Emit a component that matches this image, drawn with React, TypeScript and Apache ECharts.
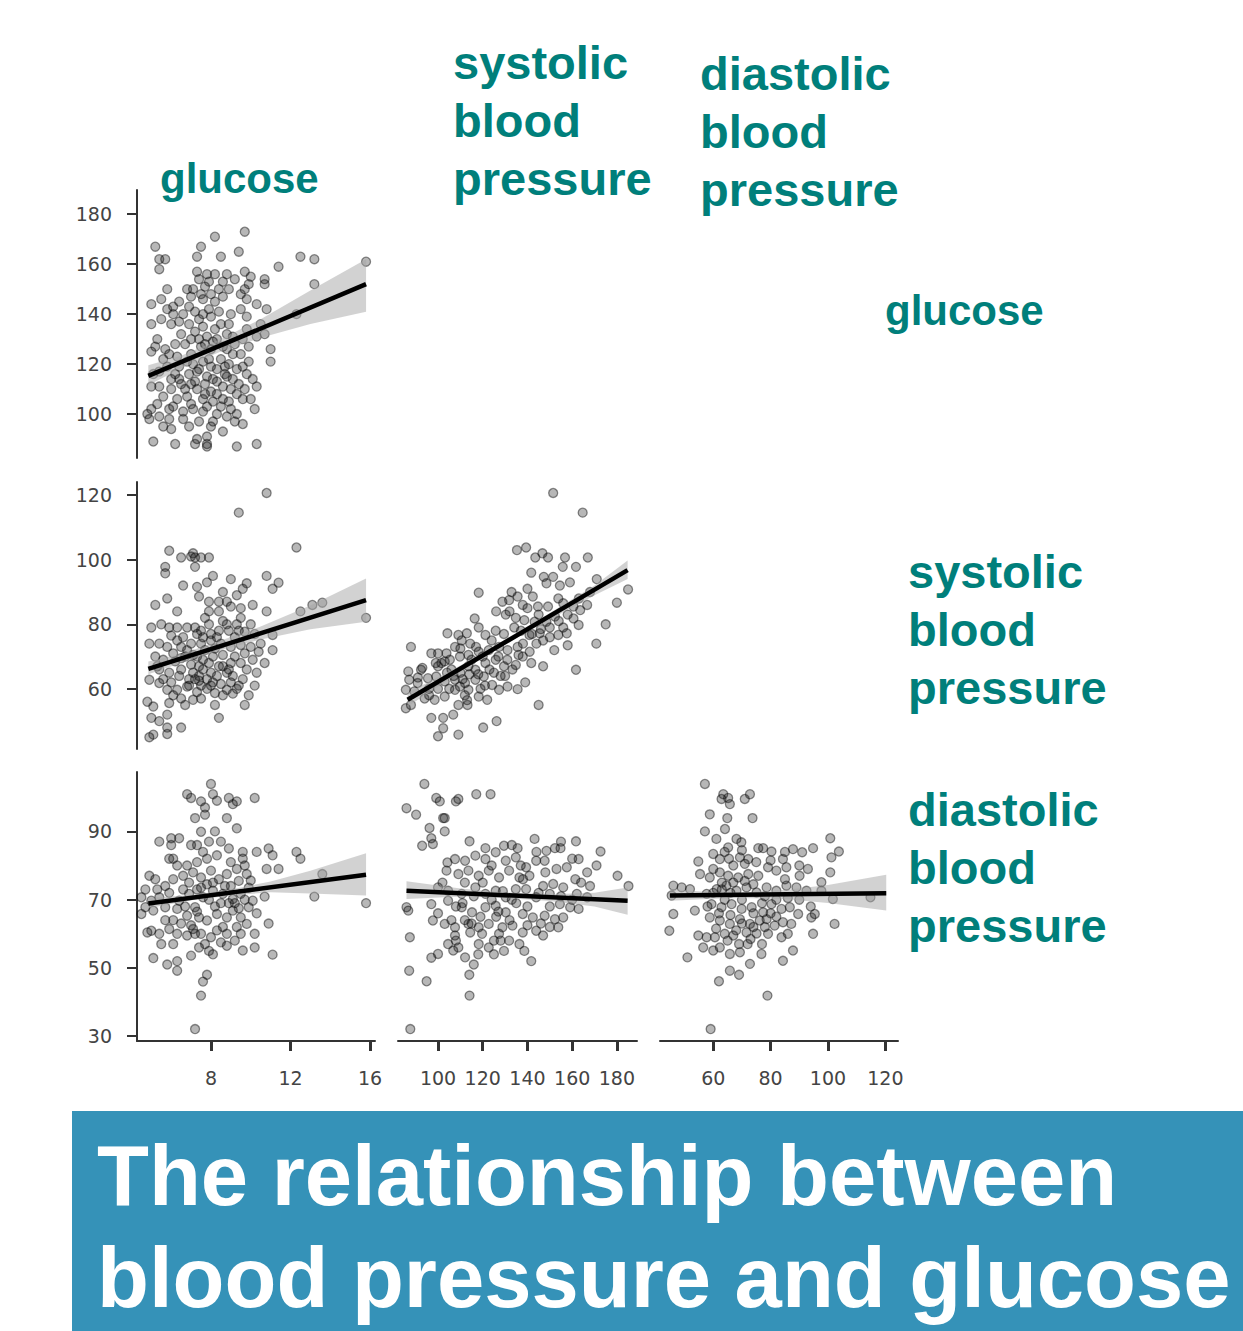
import React, { useEffect, useRef } from "react";
import * as echarts from "echarts";

// ---------- data ----------
const glucoseTicks = [8, 12, 16];
const systolicTicks = [100, 120, 140, 160, 180];
const diastolicTicks = [60, 80, 100, 120];
const row1Ticks = [100, 120, 140, 160, 180];
const row2Ticks = [60, 80, 100, 120];
const row3Ticks = [30, 50, 70, 90];

const colTitles = ["glucose", "systolic\nblood\npressure", "diastolic\nblood\npressure"];
const rowTitles = ["glucose", "systolic\nblood\npressure", "diastolic\nblood\npressure"];
const bannerText = "The relationship between\nblood pressure and glucose";

// row 1, column 1
const pointsR1C1 = [
  [8.2,171],[9.7,173],[5.2,167],[5.4,162],[5.7,162],[5.4,158],[7.3,163],[7.5,167],[8.5,163],[9.4,165],[11.4,159],[12.5,163],[13.2,162],[13.2,152],[15.8,161],[10.7,154],[10.7,152],[10,155],[9.7,157],[8.8,156],[8.2,156],[7.8,156],[7.3,157],[7.4,154],[8.9,150],[9.5,148],[9.7,150],[9.8,146],[9.5,142],[10.3,144],[10.8,142],[10.5,136],[10.7,132],[11,126],[11,121],[10.3,131],[9.8,134],[9.9,127],[5,144],[5.5,146],[5.8,150],[5.8,142],[6.1,143],[6.4,145],[6.6,140],[6.1,140],[5,136],[5.5,138],[6,136],[5.2,127],[5,125],[5.7,126],[5.9,124],[6.3,123],[6.7,128],[6.8,150],[7,147],[7.5,148],[8,148],[8.2,145],[7.6,146],[7.2,141],[7.6,140],[8,139],[8.5,136],[8.9,136],[7.6,135],[7.2,133],[7.8,131],[8.3,130],[9.1,131],[8.6,127],[8,126],[7.5,127],[7,124],[9.1,124],[9.5,124],[8.5,122],[7.6,121],[7.1,120],[6.4,119],[5.8,119],[5.4,117],[5.1,116],[6,114],[6.4,114],[6.9,116],[7.3,117],[7.8,115],[8.1,114],[8.7,116],[8.8,115],[9.3,118],[9.6,119],[9.8,116],[10.1,114],[10.3,111],[5.4,111],[5,111],[6,110],[6.7,110],[7.3,110],[7.7,112],[8.3,113],[9,110],[9.3,108],[9.6,106],[8.6,106],[8.1,105],[7.6,106],[7,104],[6.3,106],[5.6,107],[5.3,104],[5,102],[4.8,100],[4.9,98],[5.4,99],[5.9,102],[5.9,98],[6,94],[6.6,98],[7.1,102],[7.4,97],[8,95],[8.3,100],[8.8,99],[9.3,100],[10.2,102],[9.2,97],[5.1,89],[6.2,88],[7.2,88],[7.3,90],[7.8,91],[7.8,88],[7.8,87],[9.3,87],[10.3,88],[12.3,140],
  [7.9,153],[8.4,150],[8.6,147],[7.4,138],[8.2,134],[8.8,132],[9.2,128],[7.9,122],[8.3,118],[8.9,120],[9.4,112],[7.6,101],[8.5,103],[6.8,107],[6.5,112],[7.2,113],[8.0,109],[8.6,111],[9.1,114],[7.4,130],[6.9,136],[6.5,132],
  [7.1,150],[7.7,151],[8.6,153],[9.2,154],[9.9,152],[6.9,143],[7.9,142],[8.4,141],[9.0,140],[9.8,139],[6.4,137],[7.0,130],[7.7,128],[8.1,129],[8.8,126],[9.6,130],[6.2,128],[6.8,121],[7.4,118],[8.0,119],[8.7,119],[9.9,121],[5.6,122],[6.2,116],[7.0,112],[7.7,108],[8.3,108],[8.9,105],[9.7,110],[6.1,103],[6.6,101],[7.8,103],[8.1,97],[9.0,102],[5.6,95],[6.9,95],[9.6,96],[8.6,93],[10.0,106],[5.3,130]
];
const fitR1C1 = [[4.85,115.3],[15.8,152]];
const bandR1C1 = [[4.85,111.5,119.5],[6.5,118.3,123.3],[8.5,125,130],[10.5,130.5,138],[13,136,149.5],[15.8,141,162]];

// row 2, column 1
const pointsR2C1 = [
  [10.8,120.7],[9.4,114.6],[12.3,103.8],[5.9,102.8],[5.7,97.8],[5.7,95.8],[6.5,100.7],[7,101],[7.1,102],[7.2,100.7],[7.5,100.7],[7.9,100.7],[7.2,97.8],[5.2,86],[5.8,88],[6.3,84],[7.3,91.6],[7.8,93],[8.1,95],[9,94],[9.8,92.7],[9.6,91],[10.8,95],[11.4,92.9],[11.1,91],[10.1,86],[10.8,84],[12.5,84],[13.1,86],[13.6,86.7],[15.8,82],[8.8,87],[8.4,87],[7.9,87],[7.4,88.6],[9,85.5],[7.9,84],[8.4,84],[9.5,85],[5,79],[5.5,80],[5.9,79],[6.3,79],[6.8,79],[7.2,79],[7.5,78],[8,77],[8.4,78],[8.8,80],[9.3,80],[9.7,77.7],[10.2,77],[10.5,74],[11.1,76.7],[11.1,72],[4.9,74],[5.4,74],[5.8,73],[6.5,73],[7,74],[7.5,74],[8,75],[8.5,74],[9,73],[9.5,73.6],[10,73],[10.4,71.5],[10.7,68],[5.2,70],[5.6,69],[6.2,68.5],[6.7,70],[7.1,70.5],[7.6,69],[8.1,70],[8.6,70.5],[9.2,70],[9.7,71],[10.1,69],[5.4,66],[5.9,65],[6.5,66],[7.1,65],[7.4,64],[7.6,66],[8,65],[8.3,64],[8.8,65],[9.1,64],[9.6,63],[4.9,62.8],[5.4,61.8],[5.8,59.7],[6.3,59.7],[6.8,60.7],[7.3,59],[7.8,60],[8.2,58.7],[8.8,59.7],[9.3,60],[10.2,61],[10.3,65],[6.5,57],[7.1,56.6],[6.7,55],[5.9,55.6],[8.2,55],[9.7,55],[4.8,56],[5.1,54.5],[5,51],[5.4,50],[5.8,52],[6.5,48],[5.8,48],[8.4,51],[5.1,45.8],[4.9,45],[5.8,46],
  [7.4,67],[7.8,63],[8.1,62],[8.6,67],[9.0,68],[9.4,61],[6.9,63],[7.0,67.5],[8.9,78],[9.2,76],[7.7,72],[8.2,72.5],[6.1,71],[6.0,62],[7.5,61],[8.5,61.5],
  [6.6,76],[7.3,77],[7.9,80],[8.6,81],[9.5,82],[6.3,75],[7.6,76],[8.3,76],[9.4,78],[6.8,72],[7.3,70],[7.9,68],[8.4,67],[8.9,66],[9.8,66],[6.4,64],[6.9,61],[7.4,62.5],[8.0,61],[8.6,58],[9.1,58.5],[9.9,58],[6.1,58],[7.5,57],[5.6,63],[5.3,67],[6.0,76.5],[7.7,82],[8.6,90],[9.3,89],[6.6,92],[10.0,80],[9.0,62],[7.2,63],[6.5,69.5],[9.5,68]
];
const fitR2C1 = [[4.85,66.2],[15.8,87.5]];
const bandR2C1 = [[4.85,64.5,68.5],[6.5,68,70.8],[8.5,72,75],[10.5,75.3,79.3],[13,78.5,85.8],[15.8,80.8,94.2]];

// row 2, column 2
const pointsR2C2 = [
  [151.5,120.7],[164.7,114.6],[135.3,103],[139.4,103.8],[143.5,100.7],[146.7,102],[149.2,100.7],[156.8,100.7],[167,100.7],[155.8,97.8],[161.7,97.8],[141.7,96],[118.2,89.8],[140,91],[147.3,94.7],[151.5,94.7],[148.5,92.7],[154.5,92],[159,93],[166.7,86],[180,86.7],[185,90.8],[170.8,74],[161.7,65.9],[145,55],[132.9,90],[128.8,87],[131.8,87.5],[135.6,88.6],[137.9,86],[142.4,88.6],[144.7,85.5],[149.2,85.5],[153.8,88],[156,86.5],[160.6,85.5],[163.6,84.4],[126,84],[130.3,83],[134.8,82],[138.6,81.3],[143.2,80.8],[148.5,80.8],[152.3,82.4],[156,79],[160.6,81.8],[162.9,79.8],[116.4,81.8],[118.2,79],[121.2,76.7],[125.8,78],[129.5,77],[134.1,79],[137.1,78],[140.9,76.7],[145.5,77.2],[150,76],[153.8,76.7],[157.6,77.2],[104.2,77.2],[109.1,76.7],[112.9,77.2],[114.4,74],[110.6,75],[107.6,73],[103.8,71],[100,71],[97,71],[101.5,68],[105.3,69],[109.8,70],[113.6,70.5],[118.2,71.5],[122.7,72],[127.3,73],[131.1,72],[135.6,73],[137.9,70],[141,71.5],[144,74],[147,75],[113.6,67],[116.7,65.9],[121.2,68],[125.8,69],[129.5,67],[133.3,66],[134.8,67.4],[141.7,68],[147,67],[92.4,65.9],[86.7,65.4],[87.1,62.8],[90.9,61.8],[95.5,63.3],[99.2,63.8],[103,62.3],[107.6,62.8],[112.1,61.8],[116.7,62.8],[120.5,63.8],[124.2,61.2],[127.3,59.7],[131.1,60.7],[135.6,59.9],[85.6,59.7],[89.4,59.2],[94,57],[98.5,56.6],[103,57.6],[107.6,59.7],[109.8,60.7],[113.6,59.7],[118.2,57.6],[122,56.6],[85.6,54],[87.9,55],[97,51],[102.3,51],[109.1,55],[113.2,55],[106.8,52],[102.3,47.8],[100,45.3],[109.1,45.8],[120.2,48],[126.2,50],[87.9,73],
  [110,65],[106,66],[119,60],[123,66],[128,64],[115,69],[100,60],[104,65],[112,58],[96,60],[93,66.5],[117,73],
  [100,67],[103,68.5],[107,64],[111,63],[114,64.5],[118,64.5],[121,61],[125,65],[127,70],[131,69],[136,70.5],[138,74],[142,77],[146,78.5],[150,79],[154,81],[158,83],[145,83],[140,85],[132,84],[124,75],[120,70],[110,72.5],[105,60],[96,58],[91,63.5],[99,68],[113,56.5],[130,64],[139,62],[152,72],[158,73.5],[163,88],[168,90],[171,94],[175,80]
];
const fitR2C2 = [[86.4,56.6],[184.8,96.8]];
const bandR2C2 = [[86.4,54.5,58.8],[110,65.2,67.2],[130,73.8,75.3],[150,81.5,83.5],[170,89,92],[184.8,94,99.8]];

// row 3, column 1
const pointsR3C1 = [
  [8,103.9],[6.8,100.9],[7,99.8],[7.5,98.8],[7.7,97],[8.1,100.9],[8.3,99],[8.9,99.8],[9.1,98],[9.3,98.8],[10.2,99.8],[7.7,94.9],[7.2,93.9],[8.8,93.9],[9.3,90.9],[7.5,89.9],[5.4,87],[6,88],[6.4,88],[6,86],[5.9,82],[6.1,82],[7.3,86],[7.9,87],[8.5,87],[8.9,85],[9.6,84],[9.6,82],[10.3,84],[10.9,85],[11.1,83],[12.3,84],[12.5,82],[11.4,79],[10.8,79],[13.2,70.9],[13.6,77.5],[15.8,69],[4.7,73],[4.9,77],[5.2,76],[5.7,74],[6.1,76],[6.6,77],[7.1,78],[7.5,76.5],[8,78.5],[8.4,76],[8.8,77.5],[9.3,79],[9.8,77.5],[10,75.6],[4.5,70.7],[5,69.7],[5.4,70.7],[5.9,72],[6.4,69.7],[6.9,71.7],[7.2,67.8],[7.6,70.7],[8.1,72.6],[8.6,71.7],[9.1,70.2],[9.5,71.7],[9.9,67.8],[10.1,69.7],[10.7,70.9],[10.3,66],[10.9,63],[4.7,67.8],[5.1,66.8],[5.7,67.8],[6.3,67.3],[6.8,65.3],[7.4,64.8],[7.8,63.9],[8.3,65.8],[8.8,64.8],[9.1,66.8],[9.5,64.8],[9.8,62.9],[5,60.9],[5.4,60],[5.9,61.4],[6.3,60],[6.8,59.5],[7.1,61.4],[7.5,60],[8,59],[8.5,57.5],[8.8,60],[9.2,58],[9.6,55.1],[10.2,60],[10.2,56],[11.1,53.9],[5.1,52.9],[5.8,51],[6.3,49.2],[6.3,52],[7,53.6],[7.9,55],[8.1,54],[7.8,48],[7.6,46],[7.5,41.9],[7.2,32.1],[4.5,65.8],[4.8,60.4],
  [7.3,73],[7.8,74.5],[8.2,68],[8.9,69],[9.4,67.5],[6.6,73],[7.0,62.5],[8.6,62],[9.0,74],[6.1,64],[7.7,57],[9.3,62],
  [6.8,80],[7.3,81],[7.8,82],[8.3,83],[9.0,81],[9.7,80],[6.9,75],[7.5,73.5],[8.1,75],[8.7,74],[9.4,75.5],[6.7,68],[7.3,66.5],[7.9,70],[8.5,69],[9.2,69],[9.7,70],[6.5,63],[7.2,60],[8.3,61],[8.8,56.5],[9.5,60],[6.1,57],[7.4,56],[5.7,64],[5.3,73],[6.3,80],[7.0,86],[8.2,90],[9.9,73.5],[7.6,84],[5.5,57]
];
const fitR3C1 = [[4.85,68.9],[15.8,77.3]];
const bandR3C1 = [[4.85,67.5,70.5],[7,69.8,71.4],[9,71.2,73],[11,72.2,75.3],[13,71.8,78.5],[15.8,71.2,83.6]];

// row 3, column 2
const pointsR3C2 = [
  [93.9,103.9],[85.9,96.8],[90.2,94.9],[99.2,99.8],[100.8,98.8],[109.1,99.5],[108,98.8],[117.1,100.9],[123.5,100.9],[102.3,93.9],[103,93.9],[103,90],[96.2,91],[97,88],[92.9,85.8],[97.7,86.3],[114.1,87.1],[121.2,85.1],[129.5,85.8],[135.6,85.1],[143.2,87.8],[148.5,84.3],[152.3,85.1],[154.8,85.1],[161.7,87.1],[162.9,81.9],[172.7,84.1],[170.9,80],[166.7,78],[161.4,76],[180.3,77],[185.2,74],[104.2,80.9],[107.6,81.9],[112.1,81.4],[116.7,82.9],[121.2,81.9],[125.8,83.9],[130.3,81.4],[134.8,82.4],[139.4,79.5],[143.9,81.4],[147.7,81.4],[153,79],[157.6,79.5],[103.8,78.5],[109.1,77.5],[113.6,78.5],[118.2,77],[122.7,78.5],[127.3,76.5],[131.8,78.5],[136.4,76.5],[140.9,77],[147,74],[151.5,74.6],[156,73.6],[162.1,71.7],[166.7,70.7],[100,73.6],[104.5,72.6],[110.6,71.7],[116.7,73.6],[121.2,71.7],[125.8,72.6],[130.3,70.7],[134.8,73.1],[139.4,73.1],[143.9,70.7],[150,71.7],[154.5,68.7],[159.1,67.8],[162.9,67.3],[85.9,67.8],[86.7,66.8],[97,68.7],[104.5,69.7],[110.6,67.8],[115.2,66.3],[121.2,67.8],[125.8,68.2],[130.3,66.3],[137.9,65.8],[142.4,64.8],[147.7,65.3],[152.3,64.3],[156,64.8],[153.8,61.9],[97.7,63.9],[103,62.9],[107.6,61.9],[113.6,62.9],[118.2,61.9],[122.7,62.9],[128.8,61.9],[133.3,62.4],[137.9,60.4],[143.9,60.9],[147,59.5],[107.6,59.5],[114.4,60.4],[119.7,60],[127.3,60],[131.8,58],[136.4,57],[104.5,57],[109.1,56],[118.2,57],[122.7,56],[125,54],[129.5,55],[138.6,55],[141.7,52],[97,53],[100,54.1],[106.8,55.1],[112.1,53.1],[116,51],[114,48],[87.1,49.2],[94.9,46.1],[114.1,41.9],[87.4,59],[87.6,32.1],
  [120,75],[126,65],[133,70],[145,72],[112,64],[108,68],[138,76],[150,68],[116,71],[128,58],
  [100,66],[106,64],[111,69],[115,63],[119,65],[124,70],[129,72.5],[135,69],[140,68],[146,63],[150,62],[155,71],[160,70],[164,75],[168,74],[132,64],[127,66.5],[108,58],[118,54],[125,58],[102,75],[112,75],[124,80],[137,80],[148,78],[160,82],[155,87],[144,84],[133,86],[140,62.5]
];
const fitR3C2 = [[85.9,72.6],[184.8,69.7]];
const bandR3C2 = [[85.9,70.2,75.4],[110,70.9,73.3],[130,70.5,72.1],[150,69.6,71.6],[170,68,72],[184.8,65.6,73.6]];

// row 3, column 3
const pointsR3C3 = [
  [57.1,103.9],[62.9,99.5],[63.5,100.9],[65.2,99.8],[65.8,98],[71,99.5],[72.8,100.9],[58.8,95],[64.9,93.9],[73.7,93.9],[57.1,90],[64.1,90.7],[61.1,87.8],[68.1,87.8],[69.8,86.8],[54.8,81.2],[60,83.4],[62.3,81.9],[65.2,85.3],[65.5,82],[69.3,82.4],[72.2,81.9],[75.7,85.1],[77.4,85.1],[80.3,84.1],[84.3,81.9],[87.8,84.8],[91,83.9],[94.8,85.1],[100.8,88],[101.2,82.4],[103.8,84.1],[100.8,78],[97.7,75.1],[93,79],[90.1,77],[85.5,79.5],[82,78.5],[79.1,79.5],[75.7,77],[72.2,77.5],[68.7,76.5],[65.2,77],[62.3,78],[58.8,76.5],[55.4,77.5],[46.1,74.1],[49,73.6],[51.9,73.1],[57.7,71.7],[61.2,73.1],[64.6,74.1],[68.1,72.6],[71.6,73.6],[75.1,72.1],[78.6,73.6],[82,72.6],[85.5,74.1],[89,73.6],[92.5,72.6],[97.7,72.6],[101.7,70.2],[114.8,70.7],[45.5,71.2],[46.1,65.8],[44.7,60.9],[51,53.1],[53.6,66.8],[59.4,68.7],[62.9,67.8],[66.4,68.7],[69.9,67.3],[73.4,67.8],[77.4,66.3],[80.3,68.7],[83.8,67.3],[86.7,67.8],[89.6,65.8],[94.2,64.8],[95.4,65.8],[102.3,62.9],[58.8,64.8],[62.3,63.9],[65.8,62.9],[69.3,64.3],[72.8,62.9],[76.2,63.9],[78.6,64.3],[81.4,62.4],[84.3,63.4],[87.2,62.9],[54.8,59.5],[57.7,59],[60.6,59],[64,60],[67,59.5],[71.6,60.4],[75.1,60.1],[79.1,60],[83.8,59],[94.8,60],[56.5,56],[60,55.1],[62.3,56],[65.8,54.1],[69.3,54.6],[72.8,51.2],[76.8,54.1],[84.3,52.1],[87.8,55.1],[65.8,49.2],[69,48],[62,46.1],[78.9,41.9],[59.1,32.1],
  [66,72],[70,70],[74,66],[68,61],[63,75],[77,69],[72,57],[80,66],[64,70],[85,76],
  [60,72],[63,73],[67,75],[71,75.5],[74,74.5],[78,71],[82,70],[86,70.5],[90,70],[94,68],[58,68],[62,66],[66,65.5],[70,63],[74,62],[78,62],[82,65],[86,60],[61,61.5],[65,58],[69,57],[73,58.5],[77,57],[67,80],[71,80.5],[75,81],[80,81.5],[85,84],[90,80],[64,84],[70,84.5],[60,79]
];
const fitR3C3 = [[44.9,71.2],[120.3,71.9]];
const bandR3C3 = [[44.9,69.7,73.1],[60,70.3,72.1],[70,70.5,72.1],[85,70.2,72.8],[100,69,74.3],[120.3,66.8,77.3]];

// ---------- layout & style ----------
const TEAL = "#007f7b";
const BANNER = "#3592b8";
const AXIS_COLOR = "#333";
const LABEL_COLOR = "#444";

const colRanges = [
  { min: 4.28, max: 16.25, ticks: glucoseTicks },
  { min: 82.1, max: 189.0, ticks: systolicTicks },
  { min: 41.45, max: 124.4, ticks: diastolicTicks },
];
const rowRanges = [
  { min: 82.4, max: 189.7, ticks: row1Ticks },
  { min: 41.35, max: 124.1, ticks: row2Ticks },
  { min: 28.6, max: 107.4, ticks: row3Ticks },
];
const colBox = [
  { left: 137, width: 238 },
  { left: 398, width: 239 },
  { left: 660, width: 238 },
];
const rowBox = [
  { top: 190, height: 268 },
  { top: 482, height: 267 },
  { top: 772, height: 269 },
];

const panels = [
  { row: 0, col: 0, points: pointsR1C1, fit: fitR1C1, band: bandR1C1 },
  { row: 1, col: 0, points: pointsR2C1, fit: fitR2C1, band: bandR2C1 },
  { row: 1, col: 1, points: pointsR2C2, fit: fitR2C2, band: bandR2C2 },
  { row: 2, col: 0, points: pointsR3C1, fit: fitR3C1, band: bandR3C1 },
  { row: 2, col: 1, points: pointsR3C2, fit: fitR3C2, band: bandR3C2 },
  { row: 2, col: 2, points: pointsR3C3, fit: fitR3C3, band: bandR3C3 },
];

const tickFont = { color: LABEL_COLOR, fontSize: 19, fontFamily: "DejaVu Sans" };

function buildOption() {
  const grid: any[] = [];
  const xAxis: any[] = [];
  const yAxis: any[] = [];
  const series: any[] = [];

  panels.forEach((p, i) => {
    const cb = colBox[p.col];
    const rb = rowBox[p.row];
    grid.push({ left: cb.left, top: rb.top, width: cb.width, height: rb.height, containLabel: false });
    const showX = p.row === 2;
    const showY = p.col === 0;
    const cr = colRanges[p.col];
    const rr = rowRanges[p.row];
    xAxis.push({
      type: "value",
      gridIndex: i,
      min: cr.min,
      max: cr.max,
      show: showX,
      splitLine: { show: false },
      axisLine: { show: showX, onZero: false, lineStyle: { color: AXIS_COLOR, width: 2 } },
      axisTick: { show: showX, customValues: cr.ticks, length: 10, lineStyle: { color: AXIS_COLOR, width: 3 } },
      axisLabel: { show: showX, customValues: cr.ticks, margin: 27, ...tickFont },
    });
    yAxis.push({
      type: "value",
      gridIndex: i,
      min: rr.min,
      max: rr.max,
      show: showY,
      splitLine: { show: false },
      axisLine: { show: showY, onZero: false, lineStyle: { color: AXIS_COLOR, width: 2 } },
      axisTick: { show: showY, customValues: rr.ticks, length: 10, lineStyle: { color: AXIS_COLOR, width: 2 } },
      axisLabel: { show: showY, customValues: rr.ticks, margin: 25, ...tickFont },
    });

    series.push({
      type: "scatter",
      xAxisIndex: i,
      yAxisIndex: i,
      data: p.points,
      symbol: "circle",
      symbolSize: 9,
      silent: true,
      itemStyle: {
        color: "rgba(20,20,20,0.38)",
        borderColor: "rgba(0,0,0,0.55)",
        borderWidth: 1.3,
      },
      z: 2,
    });

    const band = p.band;
    series.push({
      type: "custom",
      xAxisIndex: i,
      yAxisIndex: i,
      silent: true,
      data: band,
      encode: { x: 0, y: [1, 2] },
      z: 3,
      renderItem: (params: any, api: any) => {
        if (params.dataIndex !== 0) return { type: "group", children: [] };
        const upper = band.map((b) => api.coord([b[0], b[2]]));
        const lower = band
          .slice()
          .reverse()
          .map((b) => api.coord([b[0], b[1]]));
        return {
          type: "polygon",
          shape: { points: upper.concat(lower) },
          style: { fill: "rgba(165,165,165,0.5)" },
        };
      },
    });

    series.push({
      type: "line",
      xAxisIndex: i,
      yAxisIndex: i,
      data: p.fit,
      showSymbol: false,
      symbol: "none",
      silent: true,
      lineStyle: { color: "#000", width: 4.5 },
      z: 4,
    });
  });

  const titleFont = 'bold 47px "Liberation Sans", Arial, sans-serif';
  const smallTitleFont = 'bold 42px "Liberation Sans", Arial, sans-serif';
  const graphic: any[] = [
    { type: "text", left: 160, top: 157, style: { text: colTitles[0], font: smallTitleFont, fill: TEAL } },
    { type: "text", left: 453, top: 33, style: { text: colTitles[1], font: titleFont, fill: TEAL, lineHeight: 58 } },
    { type: "text", left: 700, top: 44, style: { text: colTitles[2], font: titleFont, fill: TEAL, lineHeight: 58 } },
    { type: "text", left: 885, top: 289, style: { text: rowTitles[0], font: smallTitleFont, fill: TEAL } },
    { type: "text", left: 908, top: 542, style: { text: rowTitles[1], font: titleFont, fill: TEAL, lineHeight: 58 } },
    { type: "text", left: 908, top: 780, style: { text: rowTitles[2], font: titleFont, fill: TEAL, lineHeight: 58 } },
    { type: "rect", left: 72, top: 1111, shape: { width: 1171, height: 220 }, style: { fill: BANNER } },
    {
      type: "text",
      left: 97,
      top: 1124,
      style: {
        text: bannerText,
        font: 'bold 85px "Liberation Sans", Arial, sans-serif',
        fill: "#ffffff",
        lineHeight: 102,
      },
    },
  ];

  return { animation: false, backgroundColor: "#ffffff", grid, xAxis, yAxis, series, graphic };
}

export default function App() {
  const ref = useRef<HTMLDivElement>(null);
  useEffect(() => {
    if (!ref.current) return;
    const chart = echarts.init(ref.current, null, { renderer: "svg" });
    chart.setOption(buildOption() as any);
    return () => chart.dispose();
  }, []);
  return (
    <div
      ref={ref}
      style={{ position: "absolute", left: 0, top: 0, width: 1243, height: 1331, background: "#fff" }}
    />
  );
}
